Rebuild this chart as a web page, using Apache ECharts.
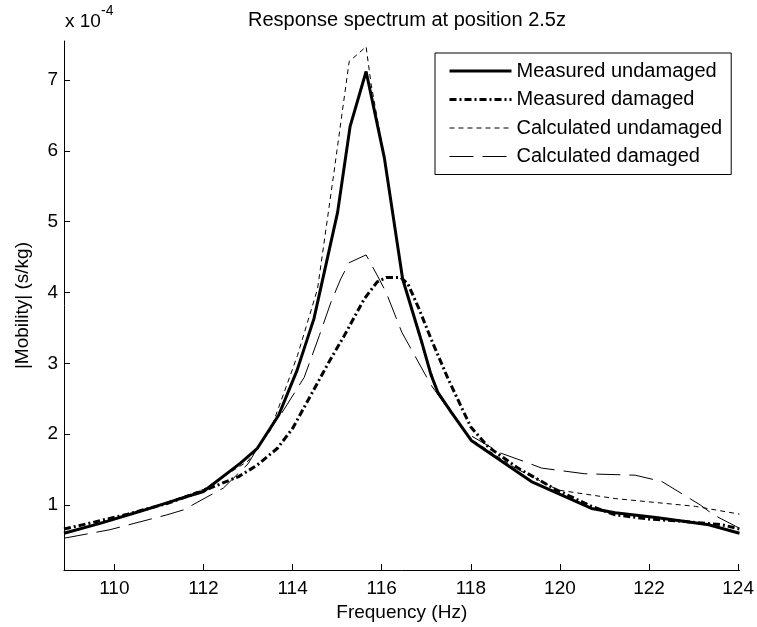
<!DOCTYPE html>
<html>
<head>
<meta charset="utf-8">
<script src="https://cdn.jsdelivr.net/npm/echarts@6/dist/echarts.min.js"></script>
<style>
  html, body { margin: 0; padding: 0; background: #fff; }
  #chart { width: 757px; height: 627px; }
</style>
</head>
<body>
<div id="chart"></div>
<script>
// values are in units of 1e-4 s/kg, frequencies in Hz
var measUndamaged = [
  [108.87, 0.60], [109.68, 0.74], [110.58, 0.91], [111.48, 1.09], [112.0, 1.19],
  [112.83, 1.59], [113.21, 1.80], [113.69, 2.27], [114.1, 2.90], [114.48, 3.63],
  [115.01, 5.13], [115.29, 6.34], [115.65, 7.12], [116.06, 5.90], [116.47, 4.19],
  [116.88, 3.34], [117.11, 2.83], [117.26, 2.59], [117.56, 2.31], [118.01, 1.91],
  [119.36, 1.33], [120.71, 0.95], [121.24, 0.89], [122.2, 0.82], [123.34, 0.72],
  [124.03, 0.60]
];
var measDamaged = [
  [108.87, 0.66], [109.5, 0.75], [110.3, 0.87], [111.18, 1.02], [112.0, 1.20],
  [112.79, 1.40], [113.2, 1.56], [113.66, 1.80], [114.0, 2.08], [114.41, 2.55],
  [114.8, 3.00], [115.16, 3.39], [115.61, 3.91], [115.9, 4.15], [116.1, 4.21],
  [116.43, 4.21], [116.59, 4.12], [116.85, 3.75], [117.11, 3.34], [117.49, 2.78],
  [118.0, 2.10], [118.39, 1.82], [119.06, 1.52], [119.9, 1.22], [120.71, 0.98],
  [121.24, 0.86], [122.0, 0.80], [122.74, 0.77], [123.64, 0.72], [124.03, 0.66]
];
var calcUndamaged = [
  [108.87, 0.60], [110.0, 0.80], [111.0, 1.00], [112.0, 1.22], [113.0, 1.62],
  [113.5, 2.05], [114.11, 3.11], [114.56, 4.05], [114.93, 5.70], [115.27, 7.26],
  [115.65, 7.47], [115.76, 6.95], [116.06, 5.90], [116.47, 4.20], [116.88, 3.30],
  [117.26, 2.60], [118.0, 1.93], [119.0, 1.52], [119.96, 1.21], [121.24, 1.09],
  [123.04, 0.98], [124.03, 0.87]
];
var calcDamaged = [
  [108.87, 0.53], [109.9, 0.65], [111.18, 0.86], [111.55, 0.93], [112.45, 1.24],
  [113.0, 1.58], [113.43, 2.03], [113.73, 2.27], [114.26, 2.80], [114.6, 3.39],
  [114.86, 3.86], [115.08, 4.19], [115.27, 4.42], [115.65, 4.53], [115.91, 4.23],
  [116.1, 4.00], [116.45, 3.44], [117.11, 2.69], [117.5, 2.35], [117.86, 2.03],
  [118.68, 1.73], [119.21, 1.61], [119.59, 1.52], [120.56, 1.44], [121.69, 1.42],
  [122.29, 1.33], [123.15, 1.00], [123.45, 0.86], [123.94, 0.70], [124.03, 0.67]
];
var xTicks = [110, 112, 114, 116, 118, 120, 122, 124];
var yTicks = [1, 2, 3, 4, 5, 6, 7];
var seriesNames = ["Measured undamaged", "Measured damaged", "Calculated undamaged", "Calculated damaged"];

var font = "Liberation Sans, Arial, sans-serif";
var chart = echarts.init(document.getElementById("chart"), null, { renderer: "canvas" });

// line looks: width + dash
var looks = [
  { width: 3, type: "solid" },
  { width: 3, type: [7, 3, 2, 3] },
  { width: 1, type: [5, 4] },
  { width: 1, type: [24, 9] }
];

function mkLine(i, data) {
  return {
    name: seriesNames[i],
    type: "line",
    data: data,
    symbol: "none",
    smooth: false,
    animation: false,
    lineStyle: { color: "#000", width: looks[i].width, type: looks[i].type },
    itemStyle: { color: "#000" }
  };
}

chart.setOption({
  backgroundColor: "#fff",
  animation: false,
  title: {
    text: "Response spectrum at position 2.5z",
    left: 402,
    textAlign: "center",
    top: 5,
    textStyle: { fontFamily: font, fontSize: 20, fontWeight: "normal", color: "#000" }
  },
  graphic: [
    {
      type: "text",
      left: 65,
      top: 12,
      style: { text: "x 10", font: "19px " + font, fill: "#000" }
    },
    {
      type: "text",
      left: 101,
      top: 4,
      style: { text: "-4", font: "14px " + font, fill: "#000" }
    }
  ],
  legend: {
    orient: "vertical",
    left: 435,
    top: 53,
    data: seriesNames.map(function (n, i) {
      return {
        name: n,
        itemStyle: { opacity: 0 },
        lineStyle: { color: "#000", width: looks[i].width, type: looks[i].type }
      };
    }),
    itemWidth: 62,
    itemHeight: 14,
    itemGap: 8.5,
    padding: [8, 9, 8, 13],
    borderColor: "#000",
    borderWidth: 1,
    backgroundColor: "#fff",
    textStyle: { fontFamily: font, fontSize: 20, color: "#000" }
  },
  grid: { left: 64, right: 17, top: 41, bottom: 55 },
  xAxis: {
    type: "value",
    min: 108.87,
    max: 124.03,
    name: "Frequency (Hz)",
    nameLocation: "middle",
    nameGap: 28,
    nameTextStyle: { fontFamily: font, fontSize: 19, color: "#000" },
    axisLine: { show: true, lineStyle: { color: "#000", width: 1 } },
    axisTick: { show: true, inside: true, length: 6, customValues: xTicks, lineStyle: { color: "#000" } },
    axisLabel: { customValues: xTicks, fontFamily: font, fontSize: 19, color: "#000", margin: 9 },
    splitLine: { show: false }
  },
  yAxis: {
    type: "value",
    min: 0.08,
    max: 7.55,
    name: "|Mobility| (s/kg)",
    nameLocation: "middle",
    nameGap: 32,
    nameTextStyle: { fontFamily: font, fontSize: 19, color: "#000" },
    axisLine: { show: true, lineStyle: { color: "#000", width: 1 } },
    axisTick: { show: true, inside: true, length: 6, customValues: yTicks, lineStyle: { color: "#000" } },
    axisLabel: { customValues: yTicks, fontFamily: font, fontSize: 19, color: "#000", margin: 6 },
    splitLine: { show: false }
  },
  series: [
    mkLine(0, measUndamaged),
    mkLine(1, measDamaged),
    mkLine(2, calcUndamaged),
    mkLine(3, calcDamaged)
  ]
});
</script>
</body>
</html>
